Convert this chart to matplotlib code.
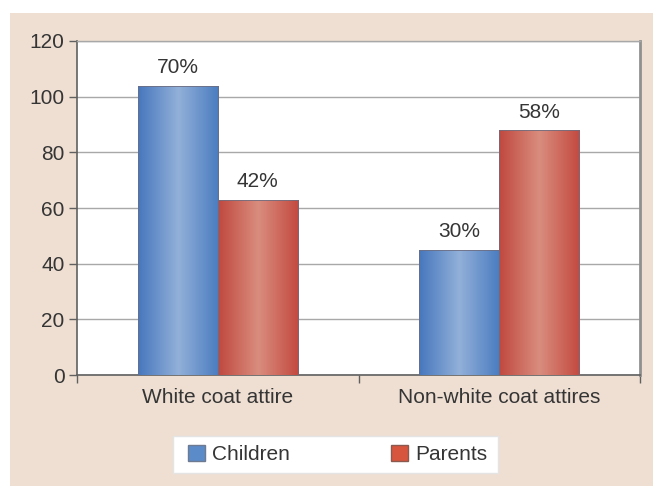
import numpy as np
import matplotlib
matplotlib.use("Agg")
import matplotlib.pyplot as plt
from matplotlib.patches import Rectangle, Patch
from matplotlib.colors import LinearSegmentedColormap

categories = ["White coat attire", "Non-white coat attires"]
series_names = ["Children", "Parents"]
children = [104, 45]
parents = [63, 88]
children_labels = ["70%", "30%"]
parents_labels = ["42%", "58%"]
yticks = [0, 20, 40, 60, 80, 100, 120]

plt.rcParams['font.family'] = ['Liberation Sans', 'DejaVu Sans']
text_color = '#353535'
FS = 15

W, H = 653, 486
fig = plt.figure(figsize=(W/100, H/100), dpi=100, facecolor='white')
fig.patches.append(Rectangle((10/W, 0), 1 - 10/W, (H-13)/H,
                             transform=fig.transFigure, facecolor='#efdfd2',
                             edgecolor='none', zorder=-10))
# legend box background
fig.patches.append(Rectangle((173/W, (H-473)/H), (498-173)/W, 37/H,
                             transform=fig.transFigure, facecolor='white',
                             edgecolor='#e4e4e4', linewidth=1, zorder=-5))

ax = fig.add_axes([77/W, (H-375)/H, (640-77)/W, (375-41)/H])
ax.set_zorder(1)
ax.set_facecolor('white')

x = np.arange(len(categories))
w = 0.285
b1 = ax.bar(x - w/2, children, w, color='#5b8bc9', zorder=3, label=series_names[0])
b2 = ax.bar(x + w/2, parents, w, color='#c9594f', zorder=3, label=series_names[1])

blue_cmap = LinearSegmentedColormap.from_list('b', ['#4677bd', '#92b0d9', '#4a7cc0'])
red_cmap = LinearSegmentedColormap.from_list('r', ['#c0483f', '#d98d7e', '#c3493f'])
grad = np.linspace(0, 1, 256).reshape(1, -1)
for bars, cmap in ((b1, blue_cmap), (b2, red_cmap)):
    for p in bars:
        x0, y0 = p.get_x(), p.get_y()
        im = ax.imshow(grad, cmap=cmap, aspect='auto', zorder=4,
                       extent=(x0, x0 + p.get_width(), y0, y0 + p.get_height()))
        im.set_clip_path(p)
        p.set_edgecolor('#6d6d80')
        p.set_linewidth(0.6)
        p.set_zorder(5)
        p.set_facecolor('none')

for bars, labels in ((b1, children_labels), (b2, parents_labels)):
    for p, lab in zip(bars, labels):
        ax.annotate(lab, (p.get_x() + p.get_width()/2, p.get_height()),
                    xytext=(0, 6), textcoords='offset points', ha='center',
                    va='bottom', fontsize=FS, color=text_color, zorder=6)

ax.set_xlim(-0.5, 1.5)
ax.set_ylim(0, 120)
ax.set_yticks(yticks)
ax.set_yticklabels([str(v) for v in yticks])
ax.yaxis.grid(True, color='#a8a8a8', linewidth=1, zorder=1)
ax.set_axisbelow(True)

ax.set_xticks(x)
ax.set_xticklabels(categories)
ax.tick_params(axis='x', length=0, pad=9, labelsize=FS, labelcolor=text_color)
ax.set_xticks([-0.5, 0.5, 1.5], minor=True)
ax.tick_params(axis='x', which='minor', length=6, color='#606060', width=1, direction='out')
ax.tick_params(axis='y', length=6, color='#606060', width=1, pad=3,
               labelsize=FS, labelcolor=text_color)

for s in ('left', 'bottom'):
    ax.spines[s].set_color('#606060')
    ax.spines[s].set_linewidth(1.2)
ax.spines['top'].set_color('#a8a8a8')
ax.spines['top'].set_linewidth(1)
ax.spines['right'].set_color('#909090')
ax.spines['right'].set_linewidth(2)

handles = [Patch(facecolor='#5b8bc9', edgecolor='#6d7a90', label=series_names[0]),
           Patch(facecolor='#d8553d', edgecolor='#8a5a50', label=series_names[1])]
leg = fig.legend(handles=handles, loc='center',
                 bbox_to_anchor=(188/W, (H-470)/H, (487-188)/W, 31/H),
                 mode='expand', ncol=2, frameon=False, fontsize=FS,
                 handlelength=0.8, handleheight=0.8, handletextpad=0.35,
                 borderpad=0, borderaxespad=0)
for t in leg.get_texts():
    t.set_color(text_color)

fig.savefig('out.png', dpi=100, facecolor='white')
